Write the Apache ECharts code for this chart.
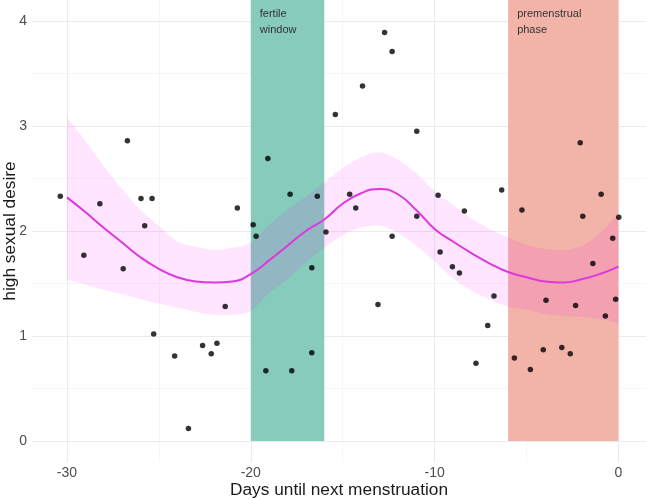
<!DOCTYPE html>
<html>
<head>
<meta charset="utf-8">
<script src="https://cdn.jsdelivr.net/npm/echarts@6/dist/echarts.min.js"></script>
<style>
html,body{margin:0;padding:0;background:#fff;}
#chart{width:649px;height:500px;}
</style>
</head>
<body>
<div id="chart"></div>
<script>
// ---- data ----
const dayValues = [-30.36,-29.08,-28.21,-26.71,-26.94,-25.97,-25.77,-25.37,-25.28,-24.14,-23.39,-22.62,-22.15,-21.84,-21.39,-20.73,-19.87,-19.71,-19.07,-17.86,-16.38,-15.91,-19.18,-17.77,-16.68,-16.68,-15.40,-13.92,-12.72,-12.31,-14.62,-14.29,-10.97,-10.97,-12.31,-9.81,-8.38,-6.35,-5.25,-2.08,-0.94,-1.94,0.02,-0.31,-13.08,-9.70,-9.03,-8.65,-6.77,-7.11,-7.75,-5.66,-4.79,-4.09,-3.94,-3.08,-2.62,-2.33,-1.39,-0.71,-0.15];
const desireValues = [2.33,1.77,2.26,2.86,1.64,2.31,2.05,2.31,1.02,0.81,0.12,0.91,0.83,0.93,1.28,2.22,2.06,1.95,2.69,2.35,2.33,1.99,0.67,0.67,0.84,1.65,3.11,3.38,3.89,3.71,2.35,2.22,2.95,2.14,1.95,2.34,2.19,2.39,2.20,2.84,2.35,2.14,2.13,1.93,1.30,1.80,1.66,1.60,1.38,1.10,0.74,0.79,0.68,0.87,1.34,0.89,0.83,1.29,1.69,1.19,1.35];

const smoothDays = [-30,-29,-28,-27,-26,-25,-24,-23,-22,-21,-20,-19,-18,-17,-16,-15,-14,-13,-12,-11,-10,-9,-8,-7,-6,-5,-4,-3,-2,-1,0];
const smoothFit   = [2.32,2.18,2.03,1.89,1.75,1.64,1.56,1.52,1.51,1.52,1.59,1.72,1.86,2.00,2.11,2.26,2.36,2.40,2.35,2.20,2.02,1.90,1.79,1.69,1.61,1.56,1.52,1.51,1.54,1.59,1.66];
const smoothUpper = [3.08,2.86,2.62,2.40,2.20,2.05,1.90,1.85,1.82,1.84,1.89,2.06,2.20,2.33,2.46,2.60,2.70,2.75,2.68,2.55,2.38,2.25,2.12,2.02,1.94,1.87,1.83,1.82,1.86,1.98,2.17];
const smoothLower = [1.54,1.49,1.44,1.40,1.35,1.31,1.27,1.23,1.20,1.20,1.24,1.41,1.54,1.70,1.84,1.96,2.03,2.05,1.98,1.86,1.71,1.55,1.43,1.35,1.28,1.25,1.21,1.19,1.18,1.16,1.12];

const phaseNames = ['fertile\nwindow', 'premenstrual\nphase'];
const phaseStart = [-20, -6];
const phaseEnd = [-16, 0];
const phaseTop = 4.2;

const xTickLabels = [-30, -20, -10, 0];
const xMinorLines = [-25, -15, -5];
const yTickLabels = [0, 1, 2, 3, 4];
const yMinorLines = [0.5, 1.5, 2.5, 3.5];

// ---- chart ----
const FONT = '"Liberation Sans", Arial, sans-serif';
const chart = echarts.init(document.getElementById('chart'), null, {renderer: 'canvas'});

const gridLineData = [];
xTickLabels.forEach(v => gridLineData.push({xAxis: v, lineStyle: {color: '#ebebeb', width: 1.1}}));
xMinorLines.forEach(v => gridLineData.push({xAxis: v, lineStyle: {color: '#f2f2f2', width: 0.7}}));
yTickLabels.forEach(v => gridLineData.push({yAxis: v, lineStyle: {color: '#ebebeb', width: 1.1}}));
yMinorLines.forEach(v => gridLineData.push({yAxis: v, lineStyle: {color: '#f2f2f2', width: 0.7}}));

const phaseColors = ['#86cbbb', '#f2b4a8'];
const areaData = phaseNames.map((n, i) => [
  {name: n, xAxis: phaseStart[i], yAxis: 0, itemStyle: {color: phaseColors[i]}},
  {xAxis: phaseEnd[i], yAxis: phaseTop}
]);

// Catmull-Rom sampling of pixel points (for the confidence band outline)
function sampleCurve(pts, steps) {
  const out = [];
  for (let i = 0; i < pts.length - 1; i++) {
    const p0 = pts[Math.max(0, i - 1)], p1 = pts[i], p2 = pts[i + 1], p3 = pts[Math.min(pts.length - 1, i + 2)];
    for (let s = 0; s < steps; s++) {
      const t = s / steps, t2 = t * t, t3 = t2 * t;
      const f = k => 0.5 * ((2 * p1[k]) + (-p0[k] + p2[k]) * t + (2 * p0[k] - 5 * p1[k] + 4 * p2[k] - p3[k]) * t2 + (-p0[k] + 3 * p1[k] - 3 * p2[k] + p3[k]) * t3);
      out.push([f(0), f(1)]);
    }
  }
  out.push(pts[pts.length - 1]);
  return out;
}

const option = {
  animation: false,
  backgroundColor: '#ffffff',
  textStyle: {fontFamily: FONT},
  grid: {left: 32, right: 3, top: 0, bottom: 38, containLabel: false, outerBoundsMode: 'none'},
  xAxis: {
    type: 'value',
    min: -31.9, max: 1.5,
    name: 'Days until next menstruation',
    nameLocation: 'middle',
    nameGap: 20,
    nameMoveOverlap: false,
    nameTextStyle: {fontSize: 17.3, color: '#1a1a1a', fontFamily: FONT},
    axisLine: {show: false},
    axisTick: {show: false},
    splitLine: {show: false},
    axisLabel: {customValues: xTickLabels, color: '#4d4d4d', fontSize: 14, margin: 4, fontFamily: FONT}
  },
  yAxis: {
    type: 'value',
    min: -0.2, max: 4.2,
    name: 'high sexual desire',
    nameLocation: 'middle',
    nameGap: 13,
    nameMoveOverlap: false,
    nameTextStyle: {fontSize: 17.3, color: '#1a1a1a', fontFamily: FONT},
    axisLine: {show: false},
    axisTick: {show: false},
    splitLine: {show: false},
    axisLabel: {customValues: yTickLabels, color: '#4d4d4d', fontSize: 14, margin: 5, fontFamily: FONT}
  },
  series: [
    {
      type: 'line', data: [], z: 0, silent: true,
      markLine: {silent: true, z: 0, symbol: ['none', 'none'], label: {show: false}, animation: false,
        lineStyle: {type: 'solid'}, data: gridLineData}
    },
    {
      type: 'line', data: [], z: 1, silent: true,
      markArea: {silent: true, z: 1, animation: false,
        label: {show: true, position: 'insideTopLeft', distance: 0, offset: [9, 6],
          fontSize: 11, lineHeight: 16, color: '#333333', fontFamily: FONT},
        data: areaData}
    },
    {
      type: 'custom', z: 2, silent: true, coordinateSystem: 'cartesian2d',
      data: [[smoothDays[0], smoothFit[0]]],
      renderItem: function (params, api) {
        const up = smoothDays.map((d, i) => api.coord([d, smoothUpper[i]]));
        const lo = smoothDays.map((d, i) => api.coord([d, smoothLower[i]]));
        const upS = sampleCurve(up, 8);
        const loS = sampleCurve(lo, 8).reverse();
        return {
          type: 'polygon',
          shape: {points: upS.concat(loS)},
          style: {fill: 'rgba(255,0,255,0.1)', stroke: null}
        };
      }
    },
    {
      type: 'line', name: 'fit', z: 3, silent: true, smooth: true,
      symbol: 'none', lineStyle: {width: 2, color: '#dd38dd'},
      data: smoothDays.map((d, i) => [d, smoothFit[i]])
    },
    {
      type: 'scatter', name: 'obs', z: 4, silent: true,
      symbolSize: 5.5, itemStyle: {color: '#000000'},
      data: dayValues.map((d, i) => [d, desireValues[i]])
    }
  ]
};
chart.setOption(option);
</script>
</body>
</html>
